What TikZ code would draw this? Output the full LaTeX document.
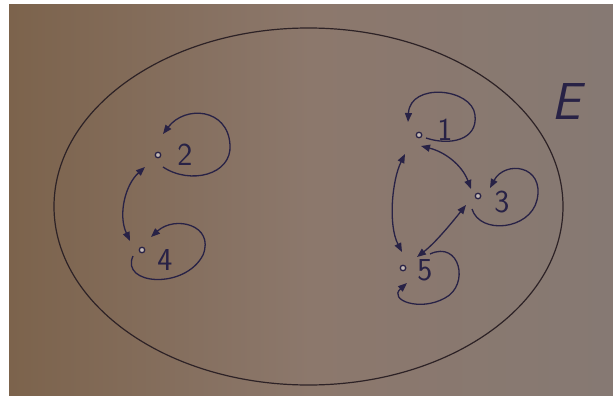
\documentclass[tikz,border=0pt]{standalone}
\usetikzlibrary{arrows.meta,calc}
\definecolor{ink}{RGB}{40,34,70}
\definecolor{pencil}{RGB}{45,34,38}
\definecolor{paperL}{RGB}{124,99,76}
\definecolor{paperM}{RGB}{140,120,108}
\definecolor{paperR}{RGB}{134,121,115}
\begin{document}
\begin{tikzpicture}[x=1pt,y=-1pt,
  dot/.style={circle,draw=ink,line width=1.3pt,minimum size=5.5pt,inner sep=0pt,fill=paperM!50!white},
  lbl/.style={text=ink,font=\sffamily\fontsize{32}{32}\selectfont,inner sep=0pt},
  biglbl/.style={text=ink,font=\sffamily\slshape\fontsize{52}{52}\selectfont,inner sep=0pt},
  link/.style={draw=ink,line width=1.3pt,{Triangle[length=9pt,width=7pt]}-{Triangle[length=9pt,width=7pt]}},
  selfloop/.style={draw=ink,line width=1.3pt,-{Triangle[length=9pt,width=7pt]}},
]
\fill[white] (0,0) rectangle (613,396);
\useasboundingbox (0,0) rectangle (613,396);
\shade[left color=paperL,right color=paperR,middle color=paperM] (9,5) rectangle (613,395);

% the set E
\draw[pencil,line width=1.2pt] (308.5,206.5) ellipse [x radius=254.5pt, y radius=178.5pt];
\node[biglbl] (E) at (566,102) {E};

% vertices
\node[dot] (n2) at (158,155) {};
\node[dot] (n4) at (142,250) {};
\node[dot] (n1) at (419,135) {};
\node[dot] (n3) at (478,196) {};
\node[dot] (n5) at (403,268) {};

% labels
\node[lbl] (l2) at (185,155) {2};
\node[lbl] (l4) at (165,260) {4};
\node[lbl] (l1) at (445,130) {1};
\node[lbl] (l3) at (502,202) {3};
\node[lbl] (l5) at (425,270) {5};

% two-way links
\draw[link] ($(n2)+(-13,12)$) .. controls ($(n2)+(-33,30)$) and ($(n4)+(-24,-35)$) .. ($(n4)+(-12,-9)$);
\draw[link] ($(n1)+(-14,19)$) .. controls ($(n1)+(-27,45)$) and ($(n5)+(-15,-43)$) .. ($(n5)+(-1,-16)$);
\draw[link] ($(n1)+(2,11)$) .. controls ($(n1)+(26,17)$) and ($(n3)+(-16,-31)$) .. ($(n3)+(-7,-7)$);
\draw[link] ($(n3)+(-12,9)$) .. controls ($(n3)+(-28,29)$) and ($(n5)+(32,-25)$) .. ($(n5)+(14,-11)$);

% self loops
\begin{scope}[shift={(n2)}]
\draw[selfloop] (5,12) .. controls (32,30) and (74,20) .. (72,-10) .. controls (70,-47) and (27,-50) .. (5,-21);
\end{scope}
\begin{scope}[shift={(n4)}]
\draw[selfloop] (-9,6) .. controls (-22,35) and (43,40) .. (61,5) .. controls (73,-25) and (33,-35) .. (9,-13);
\end{scope}
\begin{scope}[shift={(n1)}]
\draw[selfloop] (7,3) .. controls (31,11) and (59,5) .. (56,-20) .. controls (53,-47) and (-9,-53) .. (-11,-13);
\end{scope}
\begin{scope}[shift={(n3)}]
\draw[selfloop] (-6,13) .. controls (2,39) and (52,34) .. (59,4) .. controls (67,-31) and (27,-36) .. (12,-8);
\end{scope}
\begin{scope}[shift={(n5)}]
\draw[selfloop] (27,-14) .. controls (57,-28) and (67,17) .. (42,30) .. controls (17,44) and (-15,32) .. (4,15);
\end{scope}
\end{tikzpicture}
\end{document}
